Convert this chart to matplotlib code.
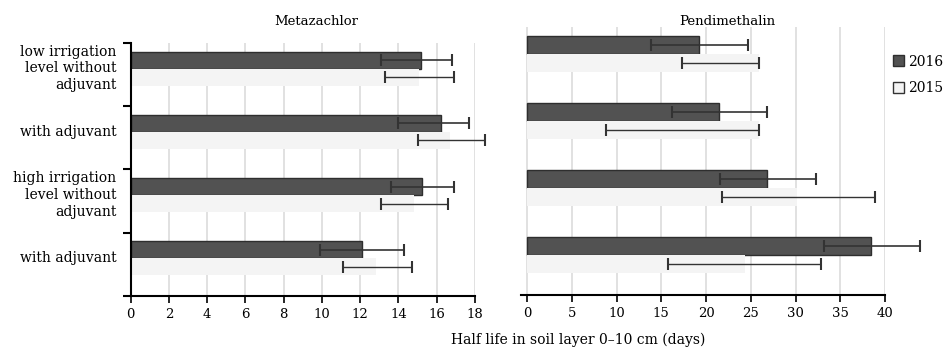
import numpy as np
import matplotlib
matplotlib.use("Agg")
import matplotlib.pyplot as plt
from matplotlib.patches import Patch

plt.rcParams['font.family'] = 'DejaVu Serif'
plt.rcParams['font.size'] = 9.5

categories = ["low irrigation\nlevel without\nadjuvant", "with adjuvant",
              "high irrigation\nlevel without\nadjuvant", "with adjuvant"]

# Metazachlor half lives (days)
meta_2016 = [15.2, 16.2, 15.25, 12.1]
meta_2016_lo = [13.1, 14.0, 13.6, 9.9]
meta_2016_hi = [16.8, 17.7, 16.9, 14.3]
meta_2015 = [15.1, 16.7, 14.8, 12.85]
meta_2015_lo = [13.3, 15.0, 13.1, 11.1]
meta_2015_hi = [16.9, 18.5, 16.6, 14.7]

# Pendimethalin half lives (days)
pendi_2016 = [19.2, 21.45, 26.8, 38.4]
pendi_2016_lo = [13.9, 16.2, 21.6, 33.2]
pendi_2016_hi = [24.7, 26.8, 32.3, 43.9]
pendi_2015 = [25.9, 25.9, 30.2, 24.3]
pendi_2015_lo = [17.3, 8.8, 21.8, 15.7]
pendi_2015_hi = [25.9, 25.9, 38.9, 32.8]

meta_ticks = list(range(0, 19, 2))
pendi_ticks = list(range(0, 41, 5))

dark = "#525252"
light = "#f4f4f4"
ecol = "#333333"

fig = plt.figure(figsize=(9.48, 3.52), dpi=100)
ax1 = fig.add_axes([0.1379, 0.1591, 0.3631, 0.7188])
ax2 = fig.add_axes([0.5496, 0.162, 0.384, 0.761])

y = np.arange(len(categories))
h = 0.27


def draw(ax, v16, lo16, hi16, v15, lo15, hi15):
    v16, v15 = np.array(v16), np.array(v15)
    ax.barh(y - 0.23, v16, height=h, color=dark, edgecolor="#2e2e2e", linewidth=1, zorder=2)
    ax.barh(y + 0.04, v15, height=h, color=light, edgecolor="none", zorder=2)
    err16 = [v16 - np.array(lo16), np.array(hi16) - v16]
    err15 = [v15 - np.array(lo15), np.array(hi15) - v15]
    eb1 = ax.errorbar(v16, y - 0.23, xerr=np.abs(err16), fmt="none", ecolor=ecol,
                      elinewidth=1.2, capsize=4, capthick=1.5, zorder=3)
    eb2 = ax.errorbar(v15, y + 0.04, xerr=np.abs(err15), fmt="none", ecolor=ecol,
                      elinewidth=1.0, capsize=4, capthick=1.5, zorder=3)
    # let the whiskers run past the last tick
    for eb in (eb1, eb2):
        for art in eb.get_children():
            art.set_clip_on(False)
    ax.set_ylim(len(categories) - 0.5, -0.5)
    ax.grid(axis="x", color="#dcdcdc", linewidth=1.2, zorder=0)
    ax.set_axisbelow(True)
    for s in ["top", "right"]:
        ax.spines[s].set_visible(False)
    ax.spines["bottom"].set_linewidth(1.5)
    ax.tick_params(axis="x", length=5, width=1.2, pad=4)


draw(ax1, meta_2016, meta_2016_lo, meta_2016_hi, meta_2015, meta_2015_lo, meta_2015_hi)
ax1.set_xlim(0, 18)
ax1.set_xticks(meta_ticks)
ax1.spines["left"].set_linewidth(1.5)
ax1.set_yticks(np.arange(-0.5, len(categories), 1.0))
ax1.set_yticklabels([])
ax1.tick_params(axis="y", length=6, width=1.5)
for i, c in enumerate(categories):
    ax1.text(-0.75, i - 0.1, c, ha="right", va="center", fontsize=10, linespacing=1.25)

draw(ax2, pendi_2016, pendi_2016_lo, pendi_2016_hi, pendi_2015, pendi_2015_lo, pendi_2015_hi)
ax2.set_xlim(-0.67, 40)
ax2.set_xticks(pendi_ticks)
ax2.spines["left"].set_visible(False)
ax2.set_yticks([])

fig.text(0.334, 0.94, "Metazachlor", ha="center", va="center", fontsize=9.5)
fig.text(0.767, 0.94, "Pendimethalin", ha="center", va="center", fontsize=9.5)
fig.text(0.61, 0.035, "Half life in soil layer 0\u201310 cm (days)", ha="center", va="center", fontsize=10)

handles = [Patch(facecolor=dark, edgecolor="#2e2e2e", label="2016"),
           Patch(facecolor=light, edgecolor="#333333", label="2015")]
fig.legend(handles=handles, loc="upper left", bbox_to_anchor=(0.942, 0.845), frameon=False,
           handlelength=0.8, handleheight=0.8, handletextpad=0.3, labelspacing=0.9,
           borderaxespad=0, borderpad=0, fontsize=10)

fig.savefig("out.png", dpi=100)
